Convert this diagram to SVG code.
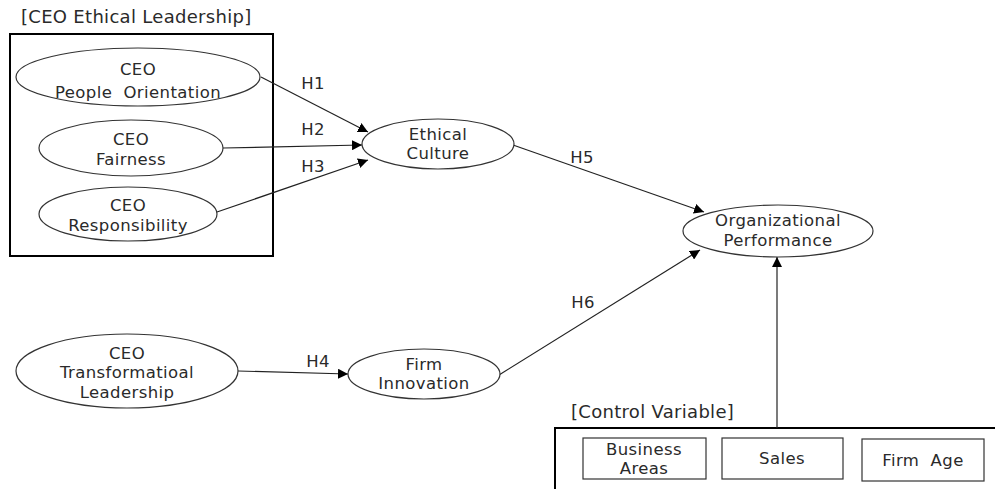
<svg xmlns="http://www.w3.org/2000/svg" width="995" height="489" viewBox="0 0 995 489">
<defs>
<marker id="arr" viewBox="0 0 10 10" refX="10" refY="5" markerWidth="10" markerHeight="10" markerUnits="userSpaceOnUse" orient="auto">
<path d="M0,0 L10,5 L0,10 z" fill="#000"/>
</marker>
</defs>
<style>
text{font-family:"DejaVu Sans","Noto Sans",sans-serif;font-size:16.5px;letter-spacing:0.4px;fill:#2a2a2a;text-anchor:middle}
.lbl{text-anchor:start;font-size:18px;letter-spacing:0.3px}
ellipse{fill:#fff;stroke:#333;stroke-width:1.2}
.box{fill:#fff;stroke:#333;stroke-width:1.2}
.frame{fill:none;stroke:#000;stroke-width:2}
.con{stroke:#222;stroke-width:1.2;fill:none;marker-end:url(#arr)}
</style>
<rect width="995" height="489" fill="#fff"/>
<g id="ceo-ethical-leadership">
<text class="lbl" x="21" y="23">[CEO Ethical Leadership]</text>
<rect class="frame" x="10" y="34" width="263" height="222"/>
</g>
<g id="control-variable">
<text class="lbl" x="571" y="418">[Control Variable]</text>
<path class="frame" d="M555,495 V428 H1000"/>
</g>
<g id="connectors">
<line class="con" x1="261" y1="77" x2="368" y2="132"/>
<line class="con" x1="223" y1="148" x2="362" y2="145"/>
<line class="con" x1="217" y1="212" x2="368" y2="160"/>
<line class="con" x1="513" y1="145" x2="704" y2="212"/>
<line class="con" x1="499" y1="375" x2="700" y2="250"/>
<line class="con" x1="238" y1="371" x2="348" y2="374"/>
<line class="con" x1="777" y1="428" x2="777" y2="257"/>
<text x="313" y="89">H1</text>
<text x="313" y="135">H2</text>
<text x="313" y="172">H3</text>
<text x="582" y="163">H5</text>
<text x="583" y="308">H6</text>
<text x="318" y="367">H4</text>
</g>
<g id="people-orientation">
<ellipse cx="138" cy="77" rx="122" ry="29"/>
<text x="138" y="75">CEO</text>
<text x="138" y="98" xml:space="preserve">People  Orientation</text>
</g>
<g id="fairness">
<ellipse cx="131" cy="148" rx="92" ry="28"/>
<text x="131" y="145">CEO</text>
<text x="131" y="165">Fairness</text>
</g>
<g id="responsibility">
<ellipse cx="128" cy="214" rx="89" ry="27"/>
<text x="128" y="211">CEO</text>
<text x="128" y="231">Responsibility</text>
</g>
<g id="ethical-culture">
<ellipse cx="438" cy="144" rx="76" ry="25"/>
<text x="438" y="140">Ethical</text>
<text x="438" y="159">Culture</text>
</g>
<g id="organizational-performance">
<ellipse cx="778" cy="231" rx="95" ry="26"/>
<text x="778" y="226">Organizational</text>
<text x="778" y="246">Performance</text>
</g>
<g id="transformational-leadership">
<ellipse cx="127" cy="371" rx="111" ry="37"/>
<text x="127" y="359">CEO</text>
<text x="127" y="378">Transformatioal</text>
<text x="127" y="398">Leadership</text>
</g>
<g id="firm-innovation">
<ellipse cx="424" cy="374" rx="76" ry="25"/>
<text x="424" y="370">Firm</text>
<text x="424" y="389">Innovation</text>
</g>
<g id="business-areas">
<rect class="box" x="583" y="438" width="123" height="41"/>
<text x="644" y="455">Business</text>
<text x="644" y="474">Areas</text>
</g>
<g id="sales">
<rect class="box" x="722" y="438" width="121" height="41"/>
<text x="782" y="464">Sales</text>
</g>
<g id="firm-age">
<rect class="box" x="862" y="439" width="122" height="42"/>
<text x="923" y="466" xml:space="preserve">Firm  Age</text>
</g>
</svg>
